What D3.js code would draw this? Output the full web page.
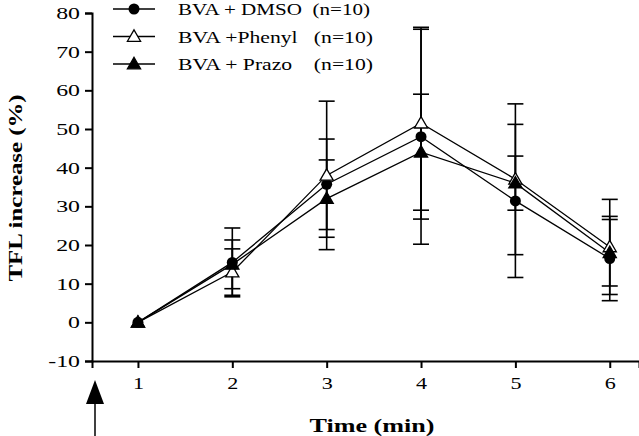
<!DOCTYPE html>
<html>
<head>
<meta charset="utf-8">
<script src="https://cdn.jsdelivr.net/npm/d3@7"></script>
<style>
  body { margin: 0; background: #fff; }
  text { font-family: "Liberation Serif", "DejaVu Serif", serif; fill: #000; }
</style>
</head>
<body>
<script>
// data
const times = [1, 2, 3, 4, 5, 6];
const seriesNames = ["BVA + DMSO  (n=10)", "BVA +Phenyl   (n=10)", "BVA + Prazo    (n=10)"];
const dmsoMean = [0, 15.5, 35.7, 48, 31.4, 16.5];
const dmsoErr = [0, 8.9, 11.7, 27.8, 19.8, 10.9];
const phenylMean = [0, 13, 38, 51.5, 37, 19.5];
const phenylErr = [0, 6, 19.2, 24.8, 19.5, 12.3];
const prazoMean = [0, 15, 32, 44, 36, 18];
const prazoErr = [0, 6.3, 10, 15, 7, 8.6];
const yTicks = [-10, 0, 10, 20, 30, 40, 50, 60, 70, 80];

const W = 639, H = 436;
const svg = d3.select("body").append("svg").attr("width", W).attr("height", H);

const x = d3.scaleLinear().domain([0.513, 6.31]).range([92, 639]);
const y = d3.scaleLinear().domain([-10, 80]).range([361, 13]);

// the original lettering is wide; stretch text to match
function widen(sel, k) {
  sel.each(function () {
    const w = this.getComputedTextLength();
    d3.select(this).attr("textLength", w * k).attr("lengthAdjust", "spacingAndGlyphs");
  });
}

// axes
const yAxis = svg.append("g").attr("transform", "translate(92,0)")
  .call(d3.axisLeft(y).tickValues(yTicks).tickFormat(d => String(d)).tickSize(7).tickPadding(5));
const xAxis = svg.append("g").attr("transform", "translate(0,361)")
  .call(d3.axisBottom(x).tickValues(times).tickFormat(d => String(d)).tickSize(7).tickPadding(9));
[yAxis, xAxis].forEach(a => {
  a.attr("font-family", null).attr("font-size", null);
  a.select(".domain").attr("stroke", "#000").attr("stroke-width", 2);
  a.selectAll(".tick line").attr("stroke", "#000").attr("stroke-width", 2);
  a.selectAll(".tick text").style("font-size", "17px");
});
widen(yAxis.selectAll(".tick text"), 1.4);
widen(xAxis.selectAll(".tick text"), 1.3);

const yl = svg.append("text").attr("transform", "translate(22,188) rotate(-90)")
  .attr("text-anchor", "middle").style("font-size", "18px").style("font-weight", "bold")
  .text("TFL increase (%)");
widen(yl, 1.38);
const xl = svg.append("text").attr("x", 372).attr("y", 432)
  .attr("text-anchor", "middle").style("font-size", "18px").style("font-weight", "bold")
  .text("Time (min)");
widen(xl, 1.45);

// arrow below first tick
svg.append("line").attr("x1", 95).attr("x2", 95).attr("y1", 400).attr("y2", 436)
  .attr("stroke", "#000").attr("stroke-width", 1.5);
svg.append("path").attr("d", "M95,380 L104,404 L86,404 Z").attr("fill", "#000");

const series = [
  { name: seriesNames[0], mean: dmsoMean, err: dmsoErr, marker: "circle" },
  { name: seriesNames[1], mean: phenylMean, err: phenylErr, marker: "open" },
  { name: seriesNames[2], mean: prazoMean, err: prazoErr, marker: "tri" }
];

const tri = d3.symbol().type(d3.symbolTriangle).size(75);
function drawMarker(g, kind, cx, cy) {
  if (kind === "circle") {
    g.append("circle").attr("cx", cx).attr("cy", cy).attr("r", 5.5).attr("fill", "#000");
  } else {
    g.append("path").attr("d", tri).attr("transform", `translate(${cx},${cy + 1})`)
      .attr("fill", kind === "open" ? "#fff" : "#000").attr("stroke", "#000").attr("stroke-width", 1.3);
  }
}

const line = d3.line().x((d, i) => x(times[i])).y(d => y(d));

series.forEach(s => {
  const g = svg.append("g");
  // error bars
  times.forEach((t, i) => {
    if (s.err[i] <= 0) return;
    const cx = x(t), hi = y(s.mean[i] + s.err[i]), lo = y(s.mean[i] - s.err[i]);
    g.append("line").attr("x1", cx).attr("x2", cx).attr("y1", hi).attr("y2", lo)
      .attr("stroke", "#000").attr("stroke-width", 1.6);
    [hi, lo].forEach(v => g.append("line").attr("x1", cx - 8).attr("x2", cx + 8)
      .attr("y1", v).attr("y2", v).attr("stroke", "#000").attr("stroke-width", 1.6));
  });
  g.append("path").datum(s.mean).attr("d", line).attr("fill", "none")
    .attr("stroke", "#000").attr("stroke-width", 1.3);
});
series.forEach(s => {
  const g = svg.append("g");
  s.mean.forEach((v, i) => drawMarker(g, s.marker, x(times[i]), y(v)));
});

// legend
const leg = svg.append("g");
const legendWidths = [192, 195, 195];
series.forEach((s, i) => {
  const ly = 9 + i * 27.5;
  leg.append("line").attr("x1", 113).attr("x2", 155).attr("y1", ly).attr("y2", ly)
    .attr("stroke", "#000").attr("stroke-width", 1.5);
  drawMarker(leg, s.marker, 134, ly);
  leg.append("text").attr("x", 178).attr("y", ly + 6).style("font-size", "17px")
    .attr("xml:space", "preserve").style("white-space", "pre").text(s.name)
    .attr("textLength", legendWidths[i]).attr("lengthAdjust", "spacingAndGlyphs");
});
</script>
</body>
</html>
